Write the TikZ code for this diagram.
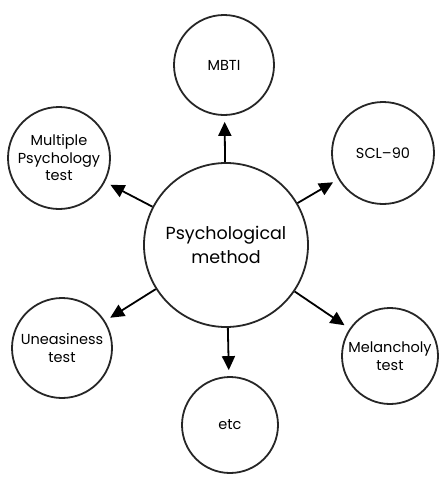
\documentclass[tikz,border=0pt]{standalone}
\usepackage{fontspec}
\setmainfont{Poppins}
\usetikzlibrary{arrows.meta}
\begin{document}
\begin{tikzpicture}[x=1pt,y=-1pt,
  bubble/.style={draw=black!85,line width=1.8pt,circle,inner sep=0pt,align=center,
    font=\fontsize{14.5}{17.5}\selectfont},
  hub/.style={bubble,minimum size=164pt,font=\fontsize{17.5}{24}\selectfont},
  leaf/.style={bubble,minimum size=#1},
  link/.style={line width=1.8pt,-{Triangle[length=14pt,width=13pt]},shorten >=6pt}]
\useasboundingbox (0,0) rectangle (439,477);
% central method
\node[hub] (c) at (226,245) {Psychological\\method};
% surrounding instruments
\node[leaf=100pt] (mbti) at (224,65) {MBTI};
\node[leaf=102pt] (mult) at (59,158) {Multiple\\Psychology\\test};
\node[leaf=102pt] (scl) at (383,153) {SCL--90};
\node[leaf=100pt] (unea) at (62,348) {Uneasiness\\test};
\node[leaf=96pt] (mel) at (390,356) {Melancholy\\test};
\node[leaf=96pt] (etc) at (230,425) {etc};
% connectors
\foreach \t in {mbti,mult,scl,unea,mel,etc}
  \draw[link] (c) -- (\t);
\end{tikzpicture}
\end{document}
